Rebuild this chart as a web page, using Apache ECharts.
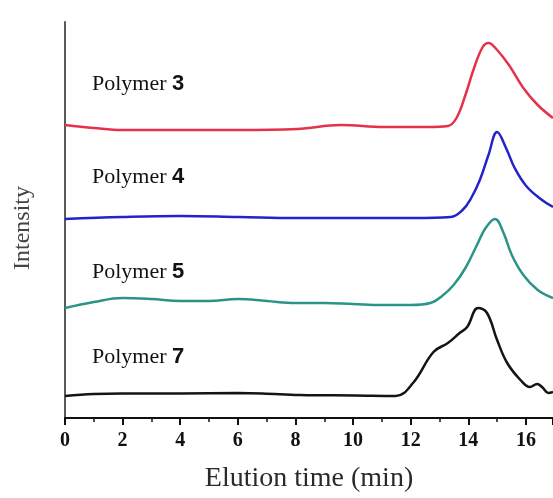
<!DOCTYPE html>
<html>
<head>
<meta charset="utf-8">
<script src="https://cdn.jsdelivr.net/npm/echarts@6/dist/echarts.min.js"></script>
<style>
  html, body { margin: 0; padding: 0; background: #fff; }
  #chart { width: 553px; height: 498px; }
</style>
</head>
<body>
<div id="chart"></div>
<script>
// elution time (min) / intensity (stacked offsets, arbitrary units)
const time3 = [0, 1, 2, 4, 6.04, 8.06, 9.57, 11.08, 12.59, 13.29, 13.59, 13.9, 14.2, 14.5, 14.7, 15.0, 15.41, 15.91, 16.41, 16.94]
const int3  = [293, 290, 288, 288, 288, 289, 293, 291, 291, 292, 300, 323, 350, 371, 375, 368, 353, 330, 313, 300]

const time4 = [0, 2, 4, 6.04, 8.06, 10.07, 12.08, 13.39, 13.8, 14.1, 14.4, 14.7, 15.0, 15.31, 15.61, 16.01, 16.51, 16.94]
const int4  = [199, 201, 202, 201, 200, 200, 200, 201, 208, 220, 238, 263, 286, 270, 250, 232, 219, 211]

const time5 = [0, 1, 2, 3, 4, 5, 6, 7, 8, 9, 10, 11, 12, 12.69, 13.09, 13.49, 13.9, 14.3, 14.6, 14.93, 15.21, 15.51, 15.91, 16.41, 16.94]
const int5  = [110, 116, 120, 119, 117, 117, 119, 117, 115, 115, 114, 113, 113, 115, 122, 133, 150, 173, 190, 199, 186, 163, 143, 128, 120]

const time7 = [0, 1, 2, 4, 6, 6.85, 8.16, 10.07, 11.48, 12.08, 12.79, 13.29, 13.7, 13.96, 14.34, 14.65, 15.0, 15.35, 15.81, 16.14, 16.39, 16.56, 16.78, 16.94]
const int7  = [22, 24, 24.6, 24.6, 25, 24.6, 23, 22.5, 22, 35, 66, 75, 85, 91, 110, 105, 78, 55, 38, 31, 34, 31, 25, 26]

const seriesNames = ['3', '4', '5', '7']
const seriesColors = ['#e5324a', '#2323cc', '#2b9488', '#141414']
const labelCenters = [84, 177, 272, 357]

const toPairs = (xs, ys) => xs.map((x, i) => [x, ys[i]])
const seriesData = [
  toPairs(time3, int3),
  toPairs(time4, int4),
  toPairs(time5, int5),
  toPairs(time7, int7)
]

const chart = echarts.init(document.getElementById('chart'))

chart.setOption({
  animation: false,
  grid: { left: 65, right: 0, top: 22, bottom: 80 },
  xAxis: {
    type: 'value',
    min: 0,
    max: 16.94,
    interval: 2,
    name: 'Elution time (min)',
    nameLocation: 'middle',
    nameGap: 47,
    nameTextStyle: { fontFamily: 'Liberation Serif', fontSize: 28, color: '#2a2a2a' },
    axisLine: { lineStyle: { color: '#111', width: 2 } },
    axisTick: { show: true, length: 7, lineStyle: { color: '#111', width: 2 } },
    minorTick: { show: true, splitNumber: 2, length: 4, lineStyle: { color: '#111', width: 1.5 } },
    splitLine: { show: false },
    axisLabel: {
      fontFamily: 'Liberation Serif',
      fontWeight: 'bold',
      fontSize: 20,
      color: '#111',
      margin: 13,
      showMaxLabel: false
    }
  },
  yAxis: {
    type: 'value',
    min: 0,
    max: 396,
    name: 'Intensity',
    nameLocation: 'middle',
    nameGap: 30,
    nameTextStyle: { fontFamily: 'Liberation Serif', fontSize: 24, color: '#444', padding: [0, 16, 0, 0] },
    axisLine: { show: true, lineStyle: { color: '#5a5a5a', width: 2 } },
    axisTick: { show: false },
    axisLabel: { show: false },
    splitLine: { show: false }
  },
  series: seriesData.map((data, i) => ({
    name: 'Polymer ' + seriesNames[i],
    type: 'line',
    data: data,
    smooth: 0.4,
    showSymbol: false,
    lineStyle: { color: seriesColors[i], width: 2.5 }
  })),
  graphic: seriesNames.map((n, i) => ({
    type: 'text',
    x: 92,
    y: labelCenters[i],
    style: {
      text: '{a|Polymer }{b|' + n + '}',
      verticalAlign: 'middle',
      rich: {
        a: { fontFamily: 'Liberation Serif', fontSize: 22, fill: '#111' },
        b: { fontFamily: 'Liberation Sans', fontSize: 22, fontWeight: 'bold', fill: '#111' }
      }
    }
  }))
})
</script>
</body>
</html>
